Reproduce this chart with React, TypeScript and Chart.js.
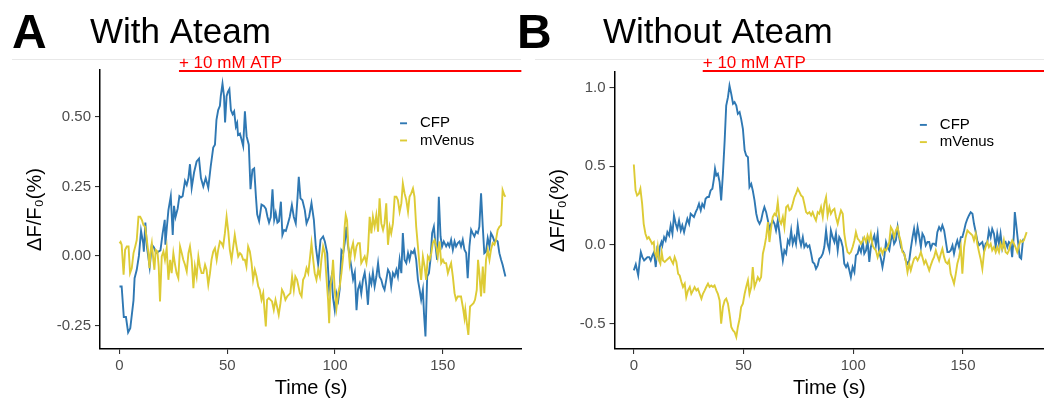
import React, { useEffect, useRef } from "react";
import { Chart, registerables } from "chart.js";

Chart.register(...registerables);

// ---------------- data ----------------
const panelLetters = ["A", "B"];
const panelTitles = ["With Ateam", "Without Ateam"];
const seriesNames = ["CFP", "mVenus"];
const xTicks = [0, 50, 100, 150];
const aYTicks = [-0.25, 0, 0.25, 0.5];
const bYTicks = [-0.5, 0, 0.5, 1.0];
const atpLabel = "+ 10 mM ATP";
const atpStart = [27.6, 31.4];
const atpEnd = [186.5, 187];

const aCfpTime = [0,1,2,3,4,5,6.5,7,8,9,
10,11,11.3,12,12.7,14,15,16,17,18,
19,20,21,21.3,22,22.7,23.8,24.7,25.3,26,
27,27.8,28.5,29.3,30.4,31.2,32,32.7,33.5,34.6,
35.8,36.9,37.8,38.9,40,41.2,42.3,43.5,44.3,45,
45.8,46.6,47,47.8,48.5,49,49.7,50.3,51,51.7,
52.5,53.2,54,54.6,55,55.9,56.6,57.4,58.2,59,
60,60.8,61.7,62.5,63.3,63.9,64.8,65.9,67,67.9,
68.7,69.4,70.2,71,71.8,72.5,73.3,74,74.9,75.6,
76.4,77.2,78.2,79,80,80.9,81.8,82.6,83.2,84,
84.9,86,86.8,88,89.1,90.2,91.1,92.2,93.3,94.5,
95.3,96.4,97.3,98.4,99.1,99.9,100.7,101.5,102.2,103,
103.8,104.5,105.3,106,106.8,107.6,108.4,109.2,110,110.7,
111.5,112.2,113,113.8,114.6,115.3,116.1,116.9,117.6,118.4,
119.2,120,120.7,121.5,122.3,123,123.8,124.6,125.4,126.1,
126.9,127.7,128.5,129.2,130,130.8,131.5,132.3,133.1,133.9,
134.6,135.4,136.2,136.9,137.7,138.5,139.3,140,140.8,141.3,
142,142.8,143.6,144.3,145.1,145.9,146.7,147.4,148.2,149,
149.7,150.5,151.6,152.4,153.1,153.9,154.7,155.5,156.2,157,
157.8,158.5,159.3,160.1,160.9,161.6,162.4,163.2,163.9,164.7,
165.5,166.3,167,167.8,168.6,169.3,170.1,170.9,171.7,172.4,
173.2,174,174.7,175.5,176.3,177.1,177.8,179.1];
const aCfpValue = [-0.11,-0.11,-0.22,-0.22,-0.275,-0.26,-0.16,-0.08,-0.05,0.0,
0.09,0.045,0.015,0.12,0.035,-0.04,0.04,0.03,0.01,0.015,
0.02,0.08,0.13,0.04,0.105,0.165,0.215,0.075,0.18,0.14,
0.17,0.215,0.21,0.215,0.27,0.255,0.28,0.33,0.245,0.30,
0.34,0.35,0.28,0.25,0.28,0.245,0.32,0.39,0.40,0.49,
0.525,0.54,0.575,0.62,0.575,0.48,0.575,0.59,0.60,0.525,
0.51,0.52,0.465,0.478,0.435,0.44,0.42,0.395,0.52,0.43,
0.40,0.24,0.31,0.315,0.215,0.15,0.125,0.185,0.18,0.17,
0.14,0.12,0.14,0.24,0.13,0.155,0.12,0.125,0.195,0.075,
0.093,0.09,0.117,0.14,0.183,0.14,0.117,0.207,0.285,0.207,
0.2,0.165,0.117,0.141,0.19,0.13,0.033,-0.03,0.058,0.07,
0.052,0.01,-0.12,-0.075,-0.15,-0.195,-0.135,-0.16,-0.12,0.02,
0.01,0.045,0.105,0.04,0.0,-0.04,-0.085,-0.06,-0.195,-0.12,
-0.1,-0.135,-0.085,-0.06,-0.11,-0.176,-0.075,-0.1,-0.06,-0.11,
-0.075,-0.026,-0.075,-0.086,-0.11,-0.122,-0.086,-0.05,-0.062,-0.11,
-0.062,-0.074,-0.05,-0.074,-0.014,-0.062,0.082,-0.014,-0.026,0.01,
-0.014,0.016,0.01,0.022,-0.014,-0.086,-0.122,-0.158,-0.122,-0.206,
-0.29,-0.074,-0.062,-0.014,0.082,0.105,0.034,-0.014,0.213,0.07,
0.034,0.052,0.034,0.046,0.034,0.058,0.022,0.052,0.034,0.046,
0.052,0.034,0.058,0.022,0.01,-0.08,0.034,0.094,0.082,0.07,
0.088,0.082,0.105,0.225,0.105,0.01,0.016,0.064,0.034,0.082,
0.07,0.052,0.058,0.052,0.01,-0.014,-0.032,-0.074];

const aVenusTime = [0,0.5,1,1.9,2.6,3.4,4.2,4.9,5.7,6.5,
7.3,8,8.8,9.6,10.4,11.1,11.9,12.7,13.4,13.9,
14.5,15,15.7,16.2,16.8,17.6,18.2,18.8,19.6,20.4,
21.1,21.9,22.7,23.5,24.2,25,25.8,26.5,27.3,28.1,
28.9,29.6,30.4,31.2,32,32.7,33.5,34.3,35,35.8,
36.6,37.3,38.1,38.9,39.7,40.4,41.2,42,42.7,43.5,
44.3,45.1,45.8,46.6,47.4,48.1,48.9,49.7,50.5,51.2,
52,52.8,53.5,54.3,55.1,55.9,56.6,57.4,58.2,58.9,
59.7,60.5,61.3,62,62.8,63.6,64.4,65.1,65.9,66.7,
67.4,67.9,68.5,69.3,70.1,70.8,71.6,72.4,73.1,73.9,
74.7,75.4,76.2,77,77.8,78.5,79.3,80.1,80.9,81.6,
82.4,83.7,84.5,85.2,86,86.8,87.6,88.3,89.1,89.9,
90.6,91.4,92.2,93,93.7,94.5,95.3,96,96.8,97.3,
97.9,98.7,99.1,99.9,100.7,101.5,102.2,103,103.8,104.5,
105,105.6,106.2,106.8,107.6,108.4,109.2,110,110.7,111.5,
112.2,113,113.8,114.6,115.3,116.1,116.9,117.6,118.4,119.2,
120,120.7,121.5,122.3,123,123.8,124.6,125.4,126.1,126.9,
127.7,128.5,129.2,130,130.8,131.5,132.3,133.1,133.9,134.6,
135.4,136.2,136.9,137.7,138.5,139.3,140,140.8,141.6,142.3,
143.1,143.9,144.7,145.4,146.2,147,147.7,148.5,149.3,150.1,
150.8,151.6,152.4,153.1,153.9,154.7,155.5,156.2,157,157.8,
158.5,159.3,160.1,160.5,161.2,161.9,162.7,163.5,164.3,165,
165.8,166.4,167,167.8,168.6,169.3,170.1,170.9,171.7,172.4,
173.2,174,174.7,175.5,176.3,177.1,177.8,178.6,179.1];
const aVenusValue = [0.045,0.05,0.04,-0.068,0.022,0.034,0.034,-0.062,-0.044,0.01,
0.034,0.057,0.141,0.141,0.129,0.111,0.105,0.057,0.01,-0.044,
0.022,0.046,-0.014,-0.05,0.022,0.016,-0.038,-0.164,-0.002,0.016,
-0.014,0.028,-0.086,-0.014,-0.062,0.01,-0.032,-0.062,-0.08,0.034,
0.01,-0.014,-0.032,-0.056,0.01,0.034,-0.014,-0.116,-0.038,-0.074,
-0.002,-0.038,-0.062,-0.062,-0.032,-0.05,-0.104,-0.062,-0.014,0.016,
0.028,-0.014,0.022,0.052,0.046,0.034,0.081,0.141,0.087,0.022,
-0.014,0.034,0.075,0.034,-0.002,0.01,0.004,-0.014,-0.014,-0.038,
0.034,0.016,-0.026,-0.086,-0.05,-0.074,-0.11,-0.122,-0.158,-0.134,
-0.206,-0.254,-0.158,-0.152,-0.158,-0.164,-0.194,-0.158,-0.182,-0.212,
-0.17,-0.122,-0.134,-0.158,-0.146,-0.14,-0.134,-0.074,-0.122,-0.074,
-0.086,-0.134,-0.146,-0.086,-0.074,-0.044,-0.062,-0.014,0.046,-0.014,
-0.062,-0.086,-0.05,-0.074,-0.014,0.034,0.01,-0.074,-0.158,-0.242,
-0.11,-0.062,-0.014,-0.122,-0.188,-0.134,-0.11,-0.062,-0.002,0.105,
0.147,0.129,0.034,-0.026,0.022,0.046,-0.002,0.034,0.046,0.046,
-0.026,-0.014,-0.002,-0.026,0.016,0.141,0.081,0.141,0.105,0.147,
0.087,0.207,0.117,0.093,0.117,0.189,0.04,0.105,0.081,0.117,
0.213,0.213,0.201,0.159,0.189,0.261,0.225,0.201,0.159,0.213,
0.225,0.243,0.213,0.105,0.034,-0.038,-0.086,-0.002,-0.038,-0.086,
-0.002,-0.014,0.01,0.046,0.057,0.034,-0.002,0.052,-0.026,-0.014,
-0.026,-0.026,-0.062,-0.044,-0.026,-0.074,-0.134,-0.158,-0.146,-0.146,
-0.146,-0.182,-0.224,-0.194,-0.242,-0.284,-0.182,-0.176,-0.17,-0.158,
-0.122,-0.014,-0.062,-0.146,-0.038,-0.134,-0.014,0.022,-0.014,0.022,
0.046,0.04,0.057,0.093,0.105,0.111,0.237,0.219,0.213];

const bCfpTime = [0,0.9,2,2.7,3.2,3.9,4.7,5.5,6.2,7,
7.7,8.5,9.2,10,10.6,11.4,11.8,12.6,13,13.8,
14.5,15.3,16.1,16.8,17.6,18.3,19.1,19.8,20.6,21.4,
22.1,22.9,23.6,24.4,25.2,25.9,26.7,27.4,28.2,28.9,
29.7,30.5,31.2,32,32.7,33.5,34.2,35,35.8,36.5,
37,37.6,38.3,39.1,39.8,40.6,41.4,42.1,42.9,43.6,
44.4,45.2,45.9,46.7,47.4,48.2,48.9,49.7,50.5,51.2,
52,52.7,53.5,54.2,55,55.8,56.5,57.3,58,58.8,
59.5,60.3,61.1,61.8,62.6,63.3,64.1,64.8,65.6,66.4,
67.1,67.9,68.6,69.4,70.2,70.9,71.7,72.4,73.2,73.9,
74.7,75.5,76.2,77,77.7,78.5,79.2,80,80.8,81.5,
82.3,83,83.8,84.5,85.3,86.1,86.8,87.6,88.3,89.1,
89.8,90.6,91.4,92.1,92.9,93.6,94.4,95.2,95.9,96.7,
97.4,98.2,98.9,99.7,100.5,101.2,102,102.7,103.5,104.3,
105,105.8,106.5,107.3,108,108.8,109.6,110.3,111.1,111.8,
112.6,113.3,114.1,114.9,115.6,116.4,117.1,117.9,118.6,119.4,
120.2,120.9,121.7,122.4,123.2,123.9,124.7,125.5,126.2,127,
127.7,128.5,129.3,130,130.8,131.5,132.3,133,133.8,134.6,
135.3,136.1,136.8,137.6,138.3,139.1,139.9,140.6,141.4,142.1,
142.9,143.6,144.4,145.2,145.9,146.7,147.4,148.2,149,149.7,
150.5,151.2,152,152.7,153.5,154.3,155,155.8,156.5,157.3,
158,158.8,159.6,160.3,161.1,161.8,162.6,163.3,164.1,164.9,
165.6,166.4,167.1,167.9,168.6,169.4,170.2,170.9,171.7,172.4,
173.2,173.6,174.2,175,175.8,176.5,177.3,177.7];
const bCfpValue = [-0.163,-0.125,-0.195,-0.1,-0.047,-0.079,-0.1,-0.089,-0.079,-0.079,
-0.1,-0.068,-0.047,-0.142,-0.036,-0.079,-0.015,0.017,-0.004,0.048,
0.027,0.08,0.059,0.123,0.07,0.186,0.133,0.101,0.154,0.091,
0.123,0.08,0.123,0.165,0.133,0.197,0.186,0.176,0.207,0.228,
0.26,0.218,0.26,0.239,0.292,0.303,0.303,0.345,0.356,0.419,
0.483,0.44,0.451,0.398,0.282,0.451,0.663,0.885,0.938,1.012,
0.959,0.896,0.906,0.885,0.832,0.843,0.8,0.737,0.6,0.567,
0.557,0.366,0.387,0.345,0.282,0.197,0.154,0.133,0.154,0.207,
0.239,0.207,0.154,0.101,0.133,0.154,0.133,0.091,0.154,0.07,
-0.015,-0.1,-0.036,-0.057,0.027,0.006,0.091,0.006,0.048,0.006,
0.123,0.038,-0.004,0.048,-0.015,0.006,-0.015,-0.004,-0.057,-0.11,
-0.121,-0.153,-0.131,-0.089,-0.079,-0.057,-0.015,0.091,0.006,-0.036,
0.091,0.048,0.017,0.07,-0.036,0.048,0.027,-0.015,-0.121,-0.142,
-0.121,-0.163,-0.206,-0.142,-0.174,-0.068,-0.057,-0.015,-0.047,0.017,
-0.057,-0.036,0.027,-0.11,-0.015,0.027,0.059,-0.004,0.07,-0.047,
-0.089,-0.142,-0.079,0.017,-0.015,-0.036,0.027,0.07,0.006,0.027,
0.112,0.048,-0.015,-0.036,-0.057,-0.1,-0.121,-0.1,-0.026,0.048,
0.101,0.027,0.112,0.059,-0.015,0.07,0.048,-0.004,0.017,0.017,
-0.026,0.006,0.006,-0.004,0.08,0.112,0.091,0.123,0.091,0.027,
-0.047,-0.047,-0.036,-0.004,-0.057,-0.004,0.027,-0.015,0.048,0.048,
0.091,0.133,0.165,0.186,0.207,0.197,0.133,0.08,0.027,-0.004,
0.006,0.017,-0.036,0.006,0.017,0.091,0.048,0.101,0.07,-0.015,
0.07,0.006,0.07,-0.026,0.006,0.017,-0.015,0.017,0.006,-0.079,
0.07,0.207,0.133,0.027,-0.079,-0.089,0.027,0.038];

const bVenusTime = [0,0.8,1.5,2.3,3,3.8,4.5,5.3,6.1,6.8,
7.6,8.3,9.1,9.5,10.3,10.9,11.5,12.1,12.7,13.3,
14.1,14.8,15.6,16.4,17.1,17.9,18.6,19.4,20.2,20.9,
21.7,22.4,23.2,23.9,24.7,25.5,26.2,27,27.7,28.5,
29.2,30,30.8,31.5,32.3,33,33.8,34.5,35.3,36.1,
36.8,37.6,38.3,39.1,39.8,40.6,41.4,42.1,42.9,43.6,
44.4,45.2,45.9,46.7,47.4,48.2,48.9,49.7,50.5,51.2,
52,52.7,53.5,54.2,55,55.8,56.5,57.3,58,58.8,
59.5,60.3,61.1,61.8,62.6,63.3,64.1,64.8,65.6,66.4,
67.1,67.9,68.6,69.4,70.2,70.9,71.7,72.4,73.2,73.9,
74.7,75.5,76.2,77,77.7,78.5,79.2,80,80.8,81.5,
82.3,83,83.8,84.5,85.3,86.1,86.8,87.6,88.3,89.1,
89.8,90.6,91.4,92.1,92.9,93.6,94.4,95.2,95.9,96.7,
97.4,98.2,98.9,99.7,100.5,101.2,102,102.7,103.5,104.3,
105,105.8,106.5,107.3,108,108.8,109.6,110.3,111.1,111.8,
112.6,113.3,114.1,114.9,115.6,116.4,117.1,117.9,118.6,119.4,
120.2,120.9,121.7,122.4,123.2,123.9,124.7,125.5,126.2,127,
127.7,128.5,129.3,130,130.8,131.5,132.3,133,133.8,134.6,
135.3,136.1,136.8,137.6,138.3,139.1,139.9,140.6,141.4,142.1,
142.9,143.6,144.4,145.2,145.9,146.7,147.4,148.2,149,149.7,
150.5,151.2,152,152.7,153.5,154.3,155,155.8,156.5,157.3,
158,158.8,159.6,160.3,161.1,161.8,162.6,163.3,164.1,164.9,
165.6,166.4,167.1,167.9,168.6,169.4,170.2,170.9,171.7,172.4,
173.2,173.9,174.7,175.5,176.2,177,177.7,178.5,179];
const bVenusValue = [0.51,0.345,0.313,0.324,0.356,0.26,0.133,0.07,0.038,0.048,
0.027,0.006,0.017,-0.047,-0.079,-0.015,-0.1,-0.121,-0.047,-0.1,
-0.11,-0.1,-0.089,-0.079,-0.1,-0.121,-0.079,-0.11,-0.185,-0.195,
-0.237,-0.269,-0.248,-0.333,-0.29,-0.269,-0.312,-0.29,-0.269,-0.29,
-0.28,-0.312,-0.343,-0.312,-0.29,-0.269,-0.248,-0.269,-0.259,-0.269,
-0.259,-0.29,-0.312,-0.354,-0.502,-0.396,-0.354,-0.343,-0.375,-0.439,
-0.523,-0.545,-0.555,-0.587,-0.523,-0.471,-0.396,-0.375,-0.312,-0.269,
-0.227,-0.312,-0.269,-0.142,-0.269,-0.237,-0.206,-0.227,-0.206,-0.057,
-0.015,0.048,0.144,0.017,0.112,0.176,0.197,0.186,0.271,0.154,
0.133,0.176,0.112,0.239,0.25,0.218,0.228,0.26,0.303,0.324,
0.356,0.334,0.313,0.303,0.26,0.207,0.197,0.207,0.186,0.207,
0.176,0.154,0.207,0.197,0.239,0.176,0.26,0.303,0.186,0.239,
0.197,0.218,0.228,0.176,0.133,0.176,0.218,0.197,0.07,-0.004,
-0.047,-0.057,-0.047,-0.015,0.027,0.08,0.038,0.027,0.006,0.027,
0.048,0.017,0.059,0.027,0.07,-0.004,-0.026,-0.036,-0.079,-0.047,
-0.026,-0.057,-0.026,-0.036,-0.015,0.017,0.112,0.091,0.048,0.091,
0.112,0.059,0.017,-0.047,-0.057,-0.1,-0.174,-0.121,-0.163,-0.121,
-0.089,-0.079,-0.1,-0.079,-0.047,-0.079,-0.121,-0.1,-0.131,-0.163,
-0.131,-0.1,-0.079,-0.036,-0.068,-0.1,-0.057,-0.026,-0.079,-0.11,
-0.121,-0.1,-0.185,-0.216,-0.248,-0.185,-0.121,-0.079,-0.015,-0.185,
-0.015,0.048,0.091,0.08,0.07,0.059,0.027,0.07,0.006,-0.047,
-0.089,-0.153,-0.047,-0.015,0.017,-0.015,0.006,-0.036,-0.015,-0.047,
-0.015,-0.047,0.006,-0.026,0.027,-0.047,-0.057,-0.036,0.006,0.027,
0.006,-0.015,-0.047,-0.004,0.027,0.017,0.027,0.059,0.08];

// ---------------- styling / layout ----------------
const FONT = "'Liberation Sans', Arial, Helvetica, sans-serif";
const BLUE = "#2f78b3";
const YELLOW = "#ddcb35";
const H = 401;

type Spec = {
  index: number;
  canvasLeft: number;
  width: number;
  axisWidth: number;
  top: number;
  bottom: number;
  xMin: number;
  xMax: number;
  yMin: number;
  yMax: number;
  yTicks: number[];
  decimals: number;
  yTitlePad: number;
  letterX: number;
  titleX: number;
  sepFrom: number;
  sepTo: number;
  cfp: [number[], number[]];
  venus: [number[], number[]];
};

const specs: Spec[] = [
  {
    index: 0, canvasLeft: 0, width: 522, axisWidth: 100, top: 70, bottom: 349,
    xMin: -9.05, xMax: 186.8, yMin: -0.335, yMax: 0.669, yTicks: aYTicks, decimals: 2,
    yTitlePad: 23.5, letterX: 12, titleX: 90, sepFrom: 12, sepTo: 521,
    cfp: [aCfpTime, aCfpValue], venus: [aVenusTime, aVenusValue],
  },
  {
    index: 1, canvasLeft: 512, width: 532, axisWidth: 102.5, top: 72, bottom: 349,
    xMin: -8.8, xMax: 186.9, yMin: -0.663, yMax: 1.098, yTicks: bYTicks, decimals: 1,
    yTitlePad: 34, letterX: 5, titleX: 91, sepFrom: 23, sepTo: 532,
    cfp: [bCfpTime, bCfpValue], venus: [bVenusTime, bVenusValue],
  },
];

function toPoints(t: number[], v: number[]) {
  const n = Math.min(t.length, v.length);
  const out: { x: number; y: number }[] = [];
  for (let i = 0; i < n; i++) out.push({ x: t[i], y: v[i] });
  return out;
}

function makeChart(canvas: HTMLCanvasElement, s: Spec) {
  const deco = {
    id: "deco" + s.index,
    afterDraw(chart: any) {
      const ctx: CanvasRenderingContext2D = chart.ctx;
      const ca = chart.chartArea;
      const xs = chart.scales.x;
      ctx.save();
      // faint separator under the headings
      ctx.strokeStyle = "#e8e8e8";
      ctx.lineWidth = 1;
      ctx.beginPath();
      ctx.moveTo(s.sepFrom, 59.5);
      ctx.lineTo(s.sepTo, 59.5);
      ctx.stroke();
      // panel letter and heading
      ctx.fillStyle = "#000";
      ctx.textAlign = "left";
      ctx.textBaseline = "alphabetic";
      ctx.font = `bold 48px ${FONT}`;
      ctx.fillText(panelLetters[s.index], s.letterX, 47.5);
      ctx.font = `35px ${FONT}`;
      ctx.fillText(panelTitles[s.index], s.titleX, 43);
      // ATP annotation
      const x0 = xs.getPixelForValue(atpStart[s.index]);
      const x1 = Math.min(xs.getPixelForValue(atpEnd[s.index]), s.width);
      ctx.strokeStyle = "#ff0000";
      ctx.lineWidth = 2;
      ctx.beginPath();
      ctx.moveTo(x0, 71);
      ctx.lineTo(x1, 71);
      ctx.stroke();
      ctx.fillStyle = "#ff0000";
      ctx.font = `17px ${FONT}`;
      ctx.fillText(atpLabel, x0, 68);
      // legend
      const lx = ca.left + 0.711 * (ca.right - ca.left);
      const ly = ca.top + 0.191 * (ca.bottom - ca.top);
      const cols = [BLUE, YELLOW];
      ctx.font = `15px ${FONT}`;
      ctx.textBaseline = "middle";
      for (let k = 0; k < seriesNames.length; k++) {
        const y = ly + k * 17.2;
        ctx.strokeStyle = cols[k];
        ctx.lineWidth = 1.9;
        ctx.beginPath();
        ctx.moveTo(lx, y);
        ctx.lineTo(lx + 7, y);
        ctx.stroke();
        ctx.fillStyle = "#000";
        ctx.fillText(seriesNames[k], lx + 20, y);
      }
      ctx.restore();
    },
  };

  return new Chart(canvas, {
    type: "line",
    data: {
      datasets: [
        {
          label: seriesNames[0],
          data: toPoints(s.cfp[0], s.cfp[1]),
          borderColor: BLUE,
          backgroundColor: BLUE,
          borderWidth: 1.9,
          pointRadius: 0,
          tension: 0,
          fill: false,
          order: 1,
        },
        {
          label: seriesNames[1],
          data: toPoints(s.venus[0], s.venus[1]),
          borderColor: YELLOW,
          backgroundColor: YELLOW,
          borderWidth: 1.9,
          pointRadius: 0,
          tension: 0,
          fill: false,
          order: 0,
        },
      ],
    },
    options: {
      animation: false,
      responsive: false,
      devicePixelRatio: 1,
      events: [],
      layout: { padding: { top: s.top, left: 0, right: 0, bottom: 0 }, autoPadding: false },
      plugins: {
        legend: { display: false },
        tooltip: { enabled: false },
        title: { display: false },
      },
      scales: {
        x: {
          type: "linear",
          min: s.xMin,
          max: s.xMax,
          afterBuildTicks: (sc: any) => {
            sc.ticks = xTicks.map((v) => ({ value: v }));
          },
          afterFit: (sc: any) => {
            sc.height = H - s.bottom;
          },
          ticks: {
            color: "#4d4d4d",
            font: { family: FONT, size: 15 },
            padding: 3,
            maxRotation: 0,
            autoSkip: false,
            callback: (v: any) => String(v),
          },
          grid: { display: true, drawOnChartArea: false, drawTicks: true, tickLength: 5, color: "#333", lineWidth: 1.1 },
          border: { display: true, color: "#000", width: 1.5 },
          title: {
            display: true,
            text: "Time (s)",
            color: "#000",
            font: { family: FONT, size: 20 },
            padding: { top: 0, bottom: 1 },
          },
        },
        y: {
          type: "linear",
          min: s.yMin,
          max: s.yMax,
          afterBuildTicks: (sc: any) => {
            sc.ticks = s.yTicks.map((v) => ({ value: v }));
          },
          afterFit: (sc: any) => {
            sc.width = s.axisWidth;
          },
          ticks: {
            color: "#4d4d4d",
            font: { family: FONT, size: 15 },
            padding: 4,
            autoSkip: false,
            callback: (v: any) => Number(v).toFixed(s.decimals),
          },
          grid: { display: true, drawOnChartArea: false, drawTicks: true, tickLength: 5, color: "#333", lineWidth: 1.1 },
          border: { display: true, color: "#000", width: 1.5 },
          title: {
            display: true,
            text: "ΔF/F₀(%)",
            color: "#000",
            font: { family: FONT, size: 20 },
            padding: { top: s.yTitlePad, bottom: 0 },
          },
        },
      },
    },
    plugins: [deco],
  } as any);
}

export default function App() {
  const refA = useRef<HTMLCanvasElement | null>(null);
  const refB = useRef<HTMLCanvasElement | null>(null);

  useEffect(() => {
    const charts: Chart[] = [];
    if (refA.current) charts.push(makeChart(refA.current, specs[0]));
    if (refB.current) charts.push(makeChart(refB.current, specs[1]));
    return () => charts.forEach((c) => c.destroy());
  }, []);

  return (
    <div
      style={{
        position: "fixed",
        left: 0,
        top: 0,
        width: 1044,
        height: H,
        background: "#fff",
        overflow: "hidden",
      }}
    >
      <canvas
        ref={refA}
        width={specs[0].width}
        height={H}
        style={{ position: "absolute", left: specs[0].canvasLeft, top: 0, width: specs[0].width, height: H }}
      />
      <canvas
        ref={refB}
        width={specs[1].width}
        height={H}
        style={{ position: "absolute", left: specs[1].canvasLeft, top: 0, width: specs[1].width, height: H }}
      />
    </div>
  );
}
